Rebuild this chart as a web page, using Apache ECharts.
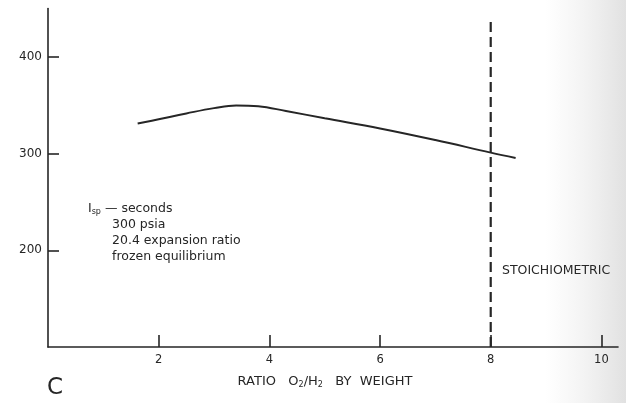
<!DOCTYPE html>
<html><head><meta charset="utf-8">
<script src="https://cdn.jsdelivr.net/npm/echarts@6/dist/echarts.min.js"></script>
<style>html,body{margin:0;padding:0;background:#fff}#c{width:626px;height:403px}</style>
</head><body><div id="c"></div>
<script>
// O2/H2 mixture ratio by weight vs specific impulse (seconds)
const ratio = [1.62, 2.0, 2.5, 3.0, 3.4, 3.8, 4.3, 5.0, 6.0, 7.0, 8.0, 8.45];
const isp   = [331, 335.5, 341.5, 347, 349.8, 349, 344, 336.5, 326, 314, 301, 295.5];
const stoichRatio = 8;
const stoichSpan = [100, 441];
const xTicks = [2, 4, 6, 8, 10];
const yTicks = [200, 300, 400];
const noteLines = ['300 psia', '20.4 expansion ratio', 'frozen equilibrium'];

const ink = '#262626';
const font = 'DejaVu Sans';
const chart = echarts.init(document.getElementById('c'), null, {renderer: 'canvas'});

chart.setOption({
  backgroundColor: '#fff',
  animation: false,
  grid: {left: 48, right: 8, top: 8.5, bottom: 56, containLabel: false},
  xAxis: {
    type: 'value', min: 0, max: 10.3,
    axisLine: {show: true, onZero: false, lineStyle: {color: ink, width: 1.6}},
    axisTick: {show: true, inside: true, length: 12, customValues: xTicks, lineStyle: {color: ink, width: 1.6}},
    axisLabel: {customValues: xTicks, color: ink, fontFamily: font, fontSize: 11.5, margin: 7},
    splitLine: {show: false},
    name: 'RATIO   O{s|2}/H{s|2}   BY  WEIGHT',
    nameLocation: 'middle', nameGap: 27,
    nameTextStyle: {
      color: ink, fontFamily: font, fontSize: 13, padding: [0, 16, 0, 0],
      rich: {s: {fontSize: 8, fontFamily: font, color: ink, verticalAlign: 'bottom', padding: [7, 0, 0, 0]}}
    }
  },
  yAxis: {
    type: 'value', min: 100, max: 450,
    axisLine: {show: true, onZero: false, lineStyle: {color: ink, width: 1.6}},
    axisTick: {show: true, inside: true, length: 11, customValues: yTicks, lineStyle: {color: ink, width: 1.6}},
    axisLabel: {customValues: yTicks, color: ink, fontFamily: font, fontSize: 12, margin: 6},
    splitLine: {show: false}
  },
  graphic: [
    {type: 'rect', z: -10, silent: true, shape: {x: 545, y: 0, width: 81, height: 403},
     style: {fill: new echarts.graphic.LinearGradient(0, 0, 1, 0, [
       {offset: 0, color: 'rgba(235,235,235,0)'}, {offset: 1, color: 'rgba(225,225,225,1)'}])}},
    {type: 'text', left: 88, top: 202, style: {
      text: 'I{s|sp} — seconds', fill: ink, font: '12.5px ' + font,
      rich: {s: {fontSize: 8, fontFamily: font, fill: ink, padding: [6, 0, 0, 0]}}}},
    {type: 'text', left: 112, top: 217, style: {text: noteLines.join('\n'), fill: ink, font: '12.5px ' + font, lineHeight: 16}},
    {type: 'text', left: 502, top: 264, style: {text: 'STOICHIOMETRIC', fill: ink, font: '12.5px ' + font}},
    {type: 'text', left: 47, top: 377, style: {text: 'C', fill: ink, font: '23px ' + font}}
  ],
  series: [
    {
      type: 'line', data: ratio.map((r, i) => [r, isp[i]]), smooth: 0.4, showSymbol: false,
      lineStyle: {color: ink, width: 2}
    },
    {
      type: 'line', data: stoichSpan.map(v => [stoichRatio, v]), showSymbol: false,
      lineStyle: {color: ink, width: 2.2, type: [10, 5]}
    }
  ]
});
</script></body></html>
